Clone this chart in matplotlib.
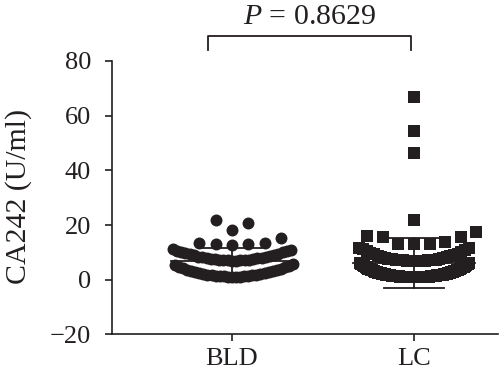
import numpy as np
import matplotlib
matplotlib.use("Agg")
import matplotlib.pyplot as plt

# CA242 (U/ml), one entry per subject
bld_values = [
    1.1, 1.1, 1.2, 1.2, 1.3, 1.3, 1.4, 1.4, 1.5, 1.6, 1.7, 1.8, 1.9, 2.1, 2.2,
    2.4, 2.5, 2.7, 2.9, 3.1, 3.3, 3.5, 3.7, 4.0, 4.2, 4.5, 4.7, 5.0, 5.3, 5.6,
    7.0, 7.0, 7.1, 7.1, 7.2, 7.2, 7.3, 7.4, 7.5, 7.6, 7.7, 7.8, 7.9, 8.1, 8.2,
    8.4, 8.5, 8.7, 8.9, 9.1, 9.3, 9.5, 9.7, 10.0, 10.2, 10.5, 10.7, 11.0, 11.2,
    12.8, 13.2, 13.2, 13.3, 13.4, 15.4,
    18.1, 20.6, 21.8,
]
lc_values = [
    0.9, 0.9, 0.9, 0.9, 0.9, 0.9, 1.0, 1.0, 1.0, 1.0, 1.0, 1.0, 1.1, 1.1, 1.1,
    1.1, 1.1, 1.2, 1.2, 1.2, 1.2, 1.2, 1.3, 1.3, 1.3, 1.3, 1.4, 1.4, 1.4, 1.4,
    1.5, 1.5, 1.5, 1.6, 1.6, 1.6, 1.7, 1.7, 1.8, 1.8, 1.9, 1.9, 2.0, 2.0, 2.1,
    2.1, 2.2, 2.2, 2.3, 2.4, 2.5, 2.5, 2.6, 2.7, 2.8, 2.9, 3.0, 3.1, 3.2, 3.3,
    3.4, 3.5, 3.6, 3.7, 3.8, 3.9, 4.1, 4.2, 4.4, 4.5, 4.7, 4.8, 5.0, 5.1, 5.3,
    5.5, 5.7, 5.8, 6.0, 6.2,
    6.9, 6.9, 6.9, 7.0, 7.0, 7.0, 7.1, 7.1, 7.2, 7.2, 7.3, 7.4, 7.5, 7.6, 7.7,
    7.9, 8.0, 8.2, 8.4, 8.6, 8.8, 9.0, 9.3, 9.6, 9.9, 10.2, 10.5, 10.8, 11.1,
    11.5, 11.5,
    13.2, 13.2, 13.2, 13.8, 15.5, 15.7, 15.9, 17.5,
    21.9, 46.3, 54.5, 67.0,
]

groups = ["BLD", "LC"]
p_label = "$P$ = 0.8629"

ink = "#231f20"
plt.rcParams["font.family"] = ["Liberation Serif", "DejaVu Serif"]
plt.rcParams["mathtext.fontset"] = "custom"
plt.rcParams["mathtext.rm"] = "Liberation Serif"
plt.rcParams["mathtext.it"] = "Liberation Serif:italic"


def swarm_offsets(values, bin_h, step, max_w):
    # prism-like layout: bin by value, inside a bin put sorted points
    # centre, right, left, right, left ... so the rows curve up at the ends
    values = np.asarray(values, dtype=float)
    offs = np.zeros(len(values))
    bins = np.floor((values - values.min()) / bin_h + 1e-9).astype(int)
    for b in np.unique(bins):
        idx = np.where(bins == b)[0]
        idx = idx[np.argsort(values[idx], kind="stable")]
        n = len(idx)
        s = step if n < 2 else min(step, max_w / (n - 1))
        for k, i in enumerate(idx):
            j = (k + 1) // 2
            offs[i] = s * j * (1 if k % 2 else -1)
    return offs


fig = plt.figure(figsize=(5, 3.87), dpi=100)
ax = fig.add_axes([0.224, 0.1357, 0.772, 0.7067])

markers = ["o", "s"]
sizes = [8.6, 9.0]
widths = [0.65, 0.60]
for pos, (vals, mk, ms, mw) in enumerate(zip([bld_values, lc_values], markers, sizes, widths)):
    vals = np.asarray(vals)
    x = pos + swarm_offsets(vals, 5.6, 0.09, mw)
    ax.plot(x, vals, linestyle="none", marker=mk, markersize=ms,
            color=ink, markeredgewidth=0, zorder=2)

    # mean line and SD whiskers
    m = vals.mean()
    sd = vals.std(ddof=1)
    ax.plot([pos - 0.335, pos + 0.335], [m, m], color=ink, lw=1.3, zorder=3)
    ax.plot([pos, pos], [m - sd, m + sd], color=ink, lw=1.3, zorder=3)
    for end in (m - sd, m + sd):
        ax.plot([pos - 0.165, pos + 0.165], [end, end], color=ink, lw=1.3, zorder=3)

ax.set_xlim(-0.659, 1.462)
ax.set_ylim(-20, 80)
ax.set_yticks([-20, 0, 20, 40, 60, 80])
ax.set_yticklabels(["\u221220", "0", "20", "40", "60", "80"])
ax.set_xticks([0, 1])
ax.set_xticklabels(groups)

for side in ["top", "right"]:
    ax.spines[side].set_visible(False)
for side in ["left", "bottom"]:
    ax.spines[side].set_color(ink)
    ax.spines[side].set_linewidth(1.2)
ax.tick_params(axis="y", direction="out", length=5, width=1.2, color=ink,
               labelsize=19, pad=10, labelcolor=ink)
ax.tick_params(axis="x", direction="out", length=5, width=1.2, color=ink,
               labelsize=19, pad=5, labelcolor=ink)

ax.set_ylabel("CA242 (U/ml)", fontsize=21.5, color=ink)
ax.yaxis.set_label_coords(-0.207, 0.505)

# significance bracket
ax.plot([-0.13, -0.13, 0.985, 0.985], [84.2, 89.3, 89.3, 84.2], color=ink,
        lw=1.3, clip_on=False)
ax.text(0.4275, 91.2, p_label, ha="center", va="bottom", fontsize=21.5,
        color=ink, clip_on=False)

fig.savefig("out.png", dpi=100)
